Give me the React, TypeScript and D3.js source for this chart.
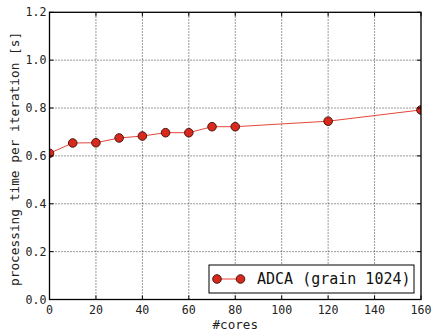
import React from "react";
import * as d3 from "d3";

// Processing time per iteration vs. number of cores
const cores = [0, 10, 20, 30, 40, 50, 60, 70, 80, 120, 160];
const times = [0.611, 0.654, 0.655, 0.675, 0.683, 0.697, 0.697, 0.722, 0.722, 0.745, 0.792];
const xTicks = [0, 20, 40, 60, 80, 100, 120, 140, 160];
const yTicks = [0.0, 0.2, 0.4, 0.6, 0.8, 1.0, 1.2];
const seriesLabel = "ADCA (grain 1024)";

const W = 438;
const H = 335;
const margin = { left: 49.5, top: 12.3, right: W - 421, bottom: H - 299.5 };
const FONT = "'DejaVu Sans Mono', monospace";
const LINE_COLOR = "#e4473a";
const MARKER_FILL = "#d8291d";
const MARKER_EDGE = "#3a0c08";

export default function App() {
  const x = d3.scaleLinear().domain([0, 160]).range([margin.left, W - margin.right]);
  const y = d3.scaleLinear().domain([0, 1.2]).range([H - margin.bottom, margin.top]);
  const pts = cores.map((c, i) => [c, times[i]] as [number, number]);
  const line = d3
    .line<[number, number]>()
    .x((d) => x(d[0]))
    .y((d) => y(d[1]));

  const x0 = x.range()[0];
  const x1 = x.range()[1];
  const y0 = y.range()[0];
  const y1 = y.range()[1];
  const tl = 4;

  const leg = { x: 209, y: 265, w: 205, h: 28 };

  return (
    <svg
      width={W}
      height={H}
      style={{ position: "absolute", left: 0, top: 0, background: "#fff" }}
      fontFamily={FONT}
    >
      <defs>
        <clipPath id="plotClip">
          <rect x={x0} y={y1} width={x1 - x0} height={y0 - y1} />
        </clipPath>
      </defs>
      <rect x={0} y={0} width={W} height={H} fill="#fff" />
      {/* grid */}
      <g stroke="#000" strokeWidth={0.8} strokeDasharray="1,2">
        {xTicks.slice(1, -1).map((t) => (
          <line key={"gx" + t} x1={x(t)} x2={x(t)} y1={y0} y2={y1} />
        ))}
        {yTicks.slice(1, -1).map((t) => (
          <line key={"gy" + t} x1={x0} x2={x1} y1={y(t)} y2={y(t)} />
        ))}
      </g>
      {/* data */}
      <g clipPath="url(#plotClip)">
        <path d={line(pts) || ""} fill="none" stroke={LINE_COLOR} strokeWidth={1} />
        {pts.map((p, i) => (
          <circle
            key={i}
            cx={x(p[0])}
            cy={y(p[1])}
            r={4.3}
            fill={MARKER_FILL}
            stroke={MARKER_EDGE}
            strokeWidth={0.9}
          />
        ))}
      </g>
      {/* inward ticks on all four sides */}
      <g stroke="#000" strokeWidth={1}>
        {xTicks.map((t) => (
          <g key={"tx" + t}>
            <line x1={x(t)} x2={x(t)} y1={y0} y2={y0 - tl} />
            <line x1={x(t)} x2={x(t)} y1={y1} y2={y1 + tl} />
          </g>
        ))}
        {yTicks.map((t) => (
          <g key={"ty" + t}>
            <line x1={x0} x2={x0 + tl} y1={y(t)} y2={y(t)} />
            <line x1={x1} x2={x1 - tl} y1={y(t)} y2={y(t)} />
          </g>
        ))}
      </g>
      <rect x={x0} y={y1} width={x1 - x0} height={y0 - y1} fill="none" stroke="#000" strokeWidth={1.3} />
      {/* tick labels */}
      <g fontSize={11.6} fill="#222">
        {xTicks.map((t) => (
          <text key={"lx" + t} x={x(t)} y={313.5} textAnchor="middle">
            {String(t)}
          </text>
        ))}
        {yTicks.map((t) => (
          <text key={"ly" + t} x={46.5} y={y(t)} dy="0.35em" textAnchor="end">
            {t.toFixed(1)}
          </text>
        ))}
      </g>
      {/* axis titles */}
      <text x={(x0 + x1) / 2} y={329} textAnchor="middle" fontSize={12.6} fill="#222">
        #cores
      </text>
      <text
        transform={`translate(18.5, ${(y0 + y1) / 2 + 3}) rotate(-90)`}
        textAnchor="middle"
        fontSize={12.8}
        fill="#222"
      >
        processing time per iteration [s]
      </text>
      {/* legend */}
      <g>
        <rect x={leg.x} y={leg.y} width={leg.w} height={leg.h} fill="#fff" stroke="#000" strokeWidth={1} />
        <line x1={217} x2={240.5} y1={leg.y + 14} y2={leg.y + 14} stroke={LINE_COLOR} strokeWidth={1} />
        {[217, 240.5].map((cx) => (
          <circle key={cx} cx={cx} cy={leg.y + 14} r={4.3} fill={MARKER_FILL} stroke={MARKER_EDGE} strokeWidth={0.9} />
        ))}
        <text x={257} y={leg.y + 19} fontSize={15} fill="#111">
          {seriesLabel}
        </text>
      </g>
    </svg>
  );
}
